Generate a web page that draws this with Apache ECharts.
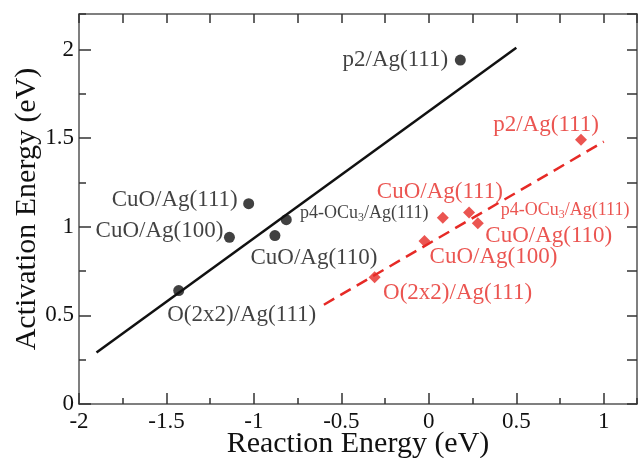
<!DOCTYPE html>
<html>
<head>
<meta charset="utf-8">
<script src="https://cdn.jsdelivr.net/npm/echarts@6/dist/echarts.min.js"></script>
<style>
  html, body { margin: 0; padding: 0; background: #fff; }
  #chart { width: 638px; height: 458px; }
</style>
</head>
<body>
<div id="chart"></div>
<script>
var chart = echarts.init(document.getElementById('chart'));

// puntos negros (círculos)
var blackNames = ['p2/Ag(111)', 'CuO/Ag(111)', 'CuO/Ag(100)', 'p4-OCu3/Ag(111)', 'CuO/Ag(110)', 'O(2x2)/Ag(111)'];
var blackX = [0.18, -1.03, -1.14, -0.815, -0.88, -1.43];
var blackY = [1.94, 1.13, 0.94, 1.04, 0.95, 0.64];

// puntos rojos (rombos)
var redNames = ['p2/Ag(111)', 'CuO/Ag(111)', 'p4-OCu3/Ag(111)', 'CuO/Ag(110)', 'CuO/Ag(100)', 'O(2x2)/Ag(111)'];
var redX = [0.87, 0.08, 0.23, 0.28, -0.025, -0.31];
var redY = [1.49, 1.05, 1.08, 1.02, 0.92, 0.715];

// rectas de ajuste
var blackFitX = [-1.9, 0.5];
var blackFitY = [0.29, 2.01];
var redFitX = [-0.6, 1.0];
var redFitY = [0.56, 1.48];

var BLACK = '#111';
var RED = '#e62a26';
var FONT = 'Liberation Serif';

// desplazamiento de las etiquetas respecto a cada punto
var blackOffsets = [[-65, 0], [-74, -4], [-70, -6], [78, -6], [39, 22], [63, 24]];
var redOffsets = [[-35, -15], [-3, -26], [96, -2], [71, 13], [69, 16], [83, 16]];

function labelText(name) {
    if (name.indexOf('OCu3') >= 0) {
        return '{a|p4-OCu}{s|3}{a|/Ag(111)}';
    }
    return name;
}

function buildPoints(xs, ys, names, offsets, color) {
    return xs.map(function (x, i) {
        return {
            value: [x, ys[i]],
            label: {
                show: true,
                position: 'inside',
                offset: offsets[i],
                formatter: labelText(names[i]),
                color: color,
                fontFamily: FONT,
                fontSize: 23,
                align: 'center',
                verticalAlign: 'middle',
                rich: {
                    a: { fontFamily: FONT, fontSize: 18, color: color },
                    s: { fontFamily: FONT, fontSize: 12, color: color, padding: [9, 0, 0, 0] }
                }
            }
        };
    });
}

function pairs(xs, ys) {
    return xs.map(function (x, i) { return [x, ys[i]]; });
}

var frame = { show: true, onZero: false, lineStyle: { color: '#555', width: 1.5 } };
var xMin = -2, xMax = 1.19, yMin = 0, yMax = 2.2;

var option = {
    animation: false,
    grid: { left: 79, right: 1, top: 14, bottom: 54, outerBoundsMode: 'none' },
    xAxis: [
        {
            type: 'value', position: 'bottom', min: xMin, max: xMax, interval: 0.5,
            axisLine: frame,
            axisTick: { show: true, inside: true, length: 11, lineStyle: { color: '#333', width: 1.5 } },
            axisLabel: { showMaxLabel: false, margin: 6, color: '#111', fontFamily: FONT, fontSize: 23 },
            splitLine: { show: false },
            name: 'Reaction Energy (eV)', nameLocation: 'middle', nameGap: 25, nameMoveOverlap: false,
            nameTextStyle: { fontFamily: FONT, fontSize: 30, color: '#111' }
        },
        {
            type: 'value', position: 'bottom', min: xMin, max: xMax, interval: 0.25,
            axisLine: { show: false, onZero: false },
            axisTick: { show: true, inside: true, length: 6, lineStyle: { color: '#333', width: 1.5 } },
            axisLabel: { show: false }, splitLine: { show: false }
        },
        {
            type: 'value', position: 'top', min: xMin, max: xMax, interval: 0.25,
            axisLine: frame,
            axisTick: { show: true, inside: true, length: 9, lineStyle: { color: '#333', width: 1.5 } },
            axisLabel: { show: false }, splitLine: { show: false }
        }
    ],
    yAxis: [
        {
            type: 'value', position: 'left', min: yMin, max: yMax, interval: 0.5,
            axisLine: frame,
            axisTick: { show: true, inside: true, length: 12, lineStyle: { color: '#333', width: 1.5 } },
            axisLabel: { showMaxLabel: false, margin: 5, color: '#111', fontFamily: FONT, fontSize: 23 },
            splitLine: { show: false },
            name: 'Activation Energy (eV)', nameLocation: 'middle', nameGap: 37, nameMoveOverlap: false,
            nameTextStyle: { fontFamily: FONT, fontSize: 30, color: '#111' }
        },
        {
            type: 'value', position: 'right', min: yMin, max: yMax, interval: 0.25,
            axisLine: frame,
            axisTick: { show: true, inside: true, length: 10, lineStyle: { color: '#333', width: 1.5 } },
            axisLabel: { show: false }, splitLine: { show: false }
        },
        {
            type: 'value', position: 'left', min: yMin, max: yMax, interval: 0.25,
            axisLine: { show: false, onZero: false },
            axisTick: { show: true, inside: true, length: 7, lineStyle: { color: '#333', width: 1.5 } },
            axisLabel: { show: false }, splitLine: { show: false }
        }
    ],
    series: [
        {
            type: 'line', data: pairs(blackFitX, blackFitY), showSymbol: false,
            lineStyle: { color: BLACK, width: 2.5 }, z: 2
        },
        {
            type: 'line', data: pairs(redFitX, redFitY), showSymbol: false,
            lineStyle: { color: RED, width: 2.5, type: [12, 7] }, z: 2
        },
        {
            type: 'scatter', symbol: 'circle', symbolSize: 11,
            itemStyle: { color: BLACK },
            data: buildPoints(blackX, blackY, blackNames, blackOffsets, BLACK), z: 3
        },
        {
            type: 'scatter', symbol: 'diamond', symbolSize: 12,
            itemStyle: { color: RED },
            data: buildPoints(redX, redY, redNames, redOffsets, RED), z: 3
        }
    ]
};

chart.setOption(option);
</script>
</body>
</html>
